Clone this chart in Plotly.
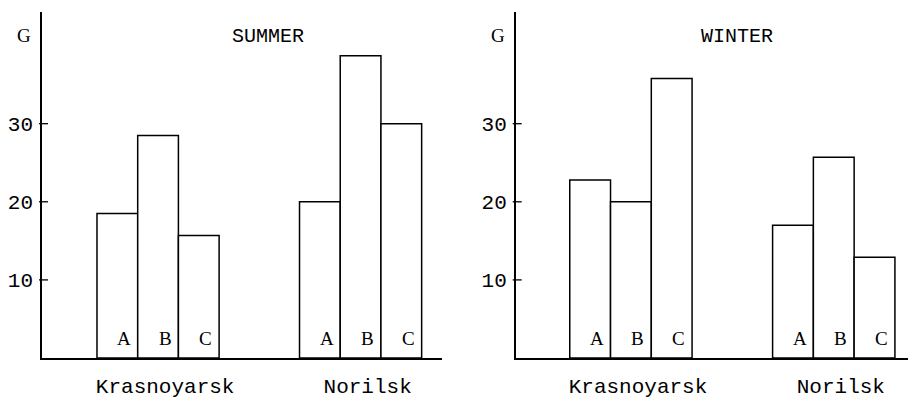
import plotly.graph_objects as go

# Data
cities = ["Krasnoyarsk", "Norilsk"]
letters = ["A", "B", "C"]
summer = {"A": [18.5, 20.0], "B": [28.5, 38.7], "C": [15.7, 30.0]}
winter = {"A": [22.8, 17.0], "B": [20.0, 25.7], "C": [35.8, 12.9]}
y_ticks = [10, 20, 30]
panels = [("SUMMER", summer), ("WINTER", winter)]

W, H = 908, 403
BAR_W = 0.201           # width of one bar in category units
LABEL_NUDGE = 0.035     # city labels sit a little right of the group centre
MONO = "Liberation Mono"
SERIF = "Liberation Serif"

# Panel geometry (pixels)
x_dom_px = [(42, 442), (515.7, 908)]
x_ranges = [[-0.573, 1.402], [-0.568, 1.366]]
y_dom = [45 / H, 391 / H]
y_range = [0, 44.3]

fig = go.Figure()
annotations = []
shapes = []

for p, (title, series) in enumerate(panels):
    xa = "x" if p == 0 else "x2"
    ya = "y" if p == 0 else "y2"
    for j, let in enumerate(letters):
        xs = [i + (j - 1) * BAR_W for i in range(len(cities))]
        fig.add_trace(go.Bar(
            x=xs, y=series[let], width=BAR_W, xaxis=xa, yaxis=ya,
            marker=dict(color="white", line=dict(color="black", width=1.5)),
            showlegend=False, hoverinfo="x+y",
        ))
        for xv in xs:
            annotations.append(dict(
                x=xv, y=2.5, xref=xa, yref=ya, text=let, showarrow=False,
                xshift=7, font=dict(family=SERIF, size=19, color="black"),
            ))
    # Titles and G label
    annotations.append(dict(
        x=0.565, y=1 - 23 / H, xref=f"{xa} domain", yref="paper", text=title,
        showarrow=False, font=dict(family=MONO, size=20, color="black"),
    ))
    annotations.append(dict(
        x=0, y=1 - 23 / H, xref=f"{xa} domain", yref="paper", text="G",
        xshift=-27, showarrow=False,
        font=dict(family=SERIF, size=19, color="black"),
    ))
    # Tick marks crossing the y axis
    span = x_dom_px[p][1] - x_dom_px[p][0]
    for t in y_ticks:
        shapes.append(dict(
            type="line", xref=f"{xa} domain", yref=ya,
            x0=-3 / span, x1=6 / span, y0=t, y1=t,
            line=dict(color="black", width=1.3),
        ))

axis_common = dict(showgrid=False, zeroline=False, showline=True,
                   linecolor="black", linewidth=1.5, ticks="",
                   automargin=False)

layout = dict(
    width=W, height=H, margin=dict(l=0, r=0, t=0, b=0),
    paper_bgcolor="white", plot_bgcolor="white",
    barmode="overlay", showlegend=False,
    annotations=annotations, shapes=shapes,
)
for p in range(2):
    sx = "" if p == 0 else "2"
    layout[f"xaxis{sx}"] = dict(
        axis_common, domain=[x_dom_px[p][0] / W, x_dom_px[p][1] / W],
        range=x_ranges[p],
        tickvals=[i + LABEL_NUDGE for i in range(len(cities))],
        ticktext=cities,
        tickfont=dict(family=MONO, size=21, color="black"),
        ticklabelstandoff=8, anchor=f"y{sx}",
    )
    layout[f"yaxis{sx}"] = dict(
        axis_common, domain=y_dom, range=y_range, tickvals=y_ticks,
        tickfont=dict(family=MONO, size=21, color="black"),
        ticklabelstandoff=3, anchor=f"x{sx}",
    )

fig.update_layout(layout)
fig.write_html("out.html")
